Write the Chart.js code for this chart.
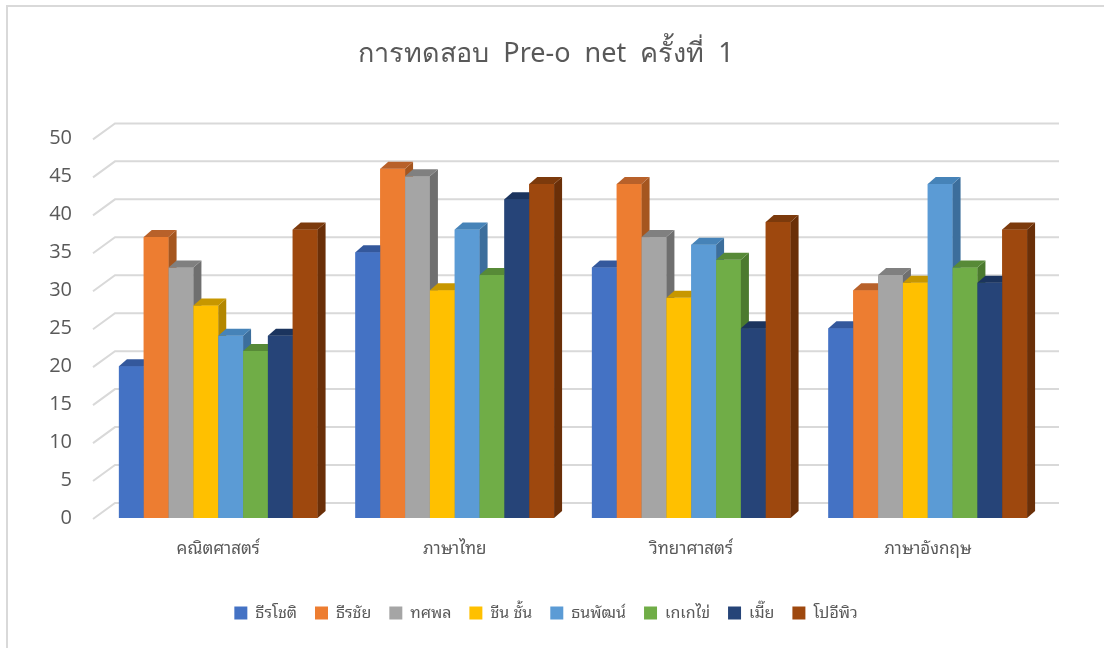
<!DOCTYPE html>
<html><head><meta charset="utf-8">
<script src="https://cdn.jsdelivr.net/npm/chart.js@4/dist/chart.umd.min.js"></script>
<style>
html,body{margin:0;padding:0;background:#fff;overflow:hidden}
#wrap{position:absolute;left:0;top:0;width:1104px;height:648px;overflow:hidden}
#frame{position:absolute;left:6px;top:5px;width:1200px;height:800px;border:2px solid #d9d9d9;box-sizing:border-box}
#c{position:absolute;left:0;top:0}
</style></head>
<body><div id="wrap"><div id="frame"></div><canvas id="c" width="1104" height="648"></canvas></div>
<script>
const categories = ['คณิตศาสตร์', 'ภาษาไทย', 'วิทยาศาสตร์', 'ภาษาอังกฤษ'];
const seriesNames = ['ธีรโชติ', 'ธีรชัย', 'ทศพล', 'ชีน ชั้น', 'ธนพัฒน์', 'เกเกไข่', 'เมี๊ย', 'โปอีพิว'];
const s1 = [20, 35, 33, 25];
const s2 = [37, 46, 44, 30];
const s3 = [33, 45, 37, 32];
const s4 = [28, 30, 29, 31];
const s5 = [24, 38, 36, 44];
const s6 = [22, 32, 34, 33];
const s7 = [24, 42, 25, 31];
const s8 = [38, 44, 39, 38];
const seriesValues = [s1, s2, s3, s4, s5, s6, s7, s8];
const yTicks = [0, 5, 10, 15, 20, 25, 30, 35, 40, 45, 50];
const titleText = 'การทดสอบ  Pre-o  net  ครั้งที่  1';

const colors = ['#4472C4', '#ED7D31', '#A5A5A5', '#FFC000', '#5B9BD5', '#70AD47', '#264478', '#9E480E'];
const sideColors = ['#2f5090', '#a5561f', '#6f6f6f', '#b38700', '#3c6e9c', '#4b7a2e', '#172d52', '#6a2f08'];
const topColors = ['#34589c', '#b8612a', '#808080', '#c79700', '#4683b8', '#578a37', '#1b345e', '#7c3a0c'];

const TITLE_FONT = "'Noto Sans', Tahoma, sans-serif";
const LABEL_FONT = "Tahoma, 'Noto Sans Thai Looped', Loma, Garuda, Waree, Umpush, 'Noto Sans', sans-serif";
const DX = 8, DY = 7;

const grid3d = {
  id: 'grid3d',
  beforeDatasetsDraw(chart) {
    const {ctx, chartArea: a, scales: {y}} = chart;
    ctx.save();
    ctx.strokeStyle = '#d9d9d9';
    ctx.lineWidth = 2;
    yTicks.forEach(v => {
      const yf = y.getPixelForValue(v);
      ctx.beginPath();
      ctx.moveTo(a.left - 7, yf + 1);
      ctx.lineTo(a.left + 15, yf - 15);
      ctx.lineTo(a.right + 13, yf - 15);
      ctx.stroke();
    });
    ctx.restore();
  }
};

const bars3d = {
  id: 'bars3d',
  afterDatasetsDraw(chart) {
    const {ctx} = chart;
    ctx.save();
    chart.data.datasets.forEach((ds, i) => {
      const meta = chart.getDatasetMeta(i);
      meta.data.forEach(bar => {
        const p = bar.getProps(['x', 'y', 'base', 'width'], true);
        const l = p.x - p.width / 2, r = p.x + p.width / 2, t = p.y, b = p.base;
        ctx.fillStyle = colors[i];
        ctx.fillRect(l, t, r - l, b - t);
        ctx.fillStyle = sideColors[i];
        ctx.beginPath();
        ctx.moveTo(r, t); ctx.lineTo(r + DX, t - DY); ctx.lineTo(r + DX, b - DY); ctx.lineTo(r, b);
        ctx.closePath(); ctx.fill();
        ctx.fillStyle = topColors[i];
        ctx.beginPath();
        ctx.moveTo(l, t); ctx.lineTo(l + DX, t - DY); ctx.lineTo(r + DX, t - DY); ctx.lineTo(r, t);
        ctx.closePath(); ctx.fill();
      });
    });
    ctx.restore();
  }
};

new Chart(document.getElementById('c'), {
  type: 'bar',
  data: {
    labels: categories,
    datasets: seriesNames.map((n, i) => ({
      label: n,
      data: seriesValues[i],
      backgroundColor: colors[i],
      borderWidth: 0,
      barPercentage: 1,
      categoryPercentage: 0.84
    }))
  },
  options: {
    responsive: false,
    animation: false,
    devicePixelRatio: 1,
    layout: {padding: {top: 18, right: 58, bottom: 17, left: 46}},
    plugins: {
      title: {
        display: true, text: titleText, color: '#595959',
        font: {family: TITLE_FONT, size: 27, weight: 'normal'},
        padding: {top: 20, bottom: 68}
      },
      legend: {
        position: 'bottom',
        labels: {
          boxWidth: 13, boxHeight: 13, color: '#595959',
          font: {family: LABEL_FONT, size: 16},
          padding: 18
        }
      },
      tooltip: {enabled: false}
    },
    scales: {
      x: {
        grid: {display: false},
        border: {display: false},
        ticks: {color: '#595959', font: {family: LABEL_FONT, size: 17}, padding: 13, maxRotation: 0},
        afterFit(s) { s.height = 69; }
      },
      y: {
        min: 0, max: 50,
        grid: {display: false},
        border: {display: false},
        afterBuildTicks(s) { s.ticks = yTicks.map(v => ({value: v})); },
        ticks: {color: '#595959', font: {family: "'Open Sans', 'Noto Sans', sans-serif", size: 20}, padding: 20},
        afterFit(s) { s.width = 54; }
      }
    }
  },
  plugins: [grid3d, bars3d]
});
</script></body></html>
